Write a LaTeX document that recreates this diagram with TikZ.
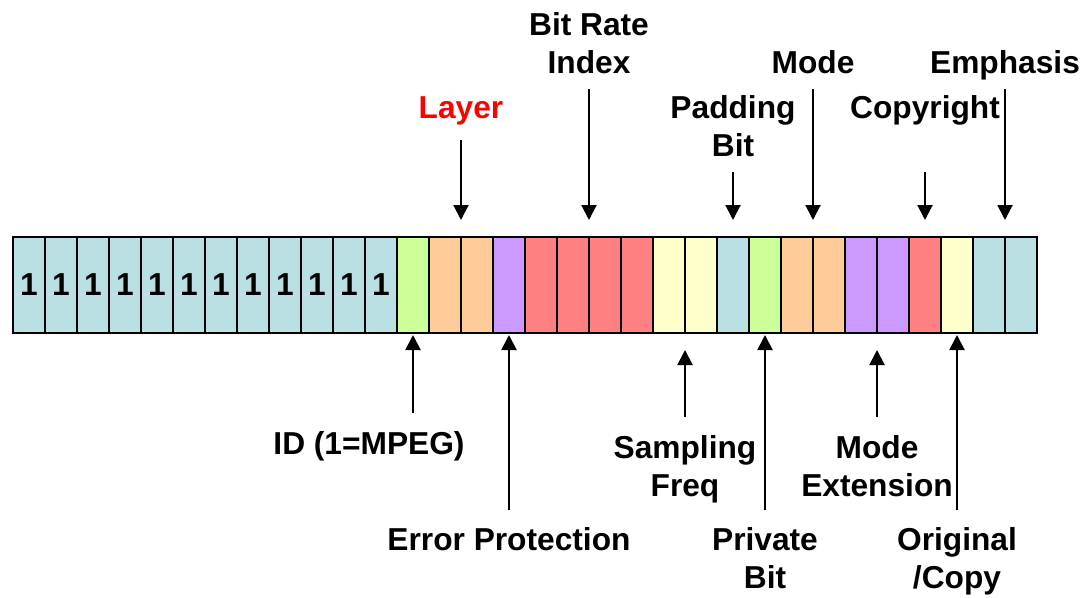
\documentclass[tikz,border=0pt]{standalone}
\usepackage{fontspec}
\setmainfont{Liberation Sans}
\usetikzlibrary{arrows.meta}
\definecolor{cblue}{RGB}{187,224,227}
\definecolor{cgreen}{RGB}{204,255,153}
\definecolor{corange}{RGB}{255,204,153}
\definecolor{cpurple}{RGB}{204,153,255}
\definecolor{cred}{RGB}{255,128,128}
\definecolor{cyellow}{RGB}{255,255,204}
\definecolor{lred}{RGB}{255,0,0}
\newcommand\lblfont{\bfseries\fontsize{31.7}{38}\selectfont}
\begin{document}
\begin{tikzpicture}[x=1pt,y=-1pt,
  cell/.style={draw, line width=1.6pt, minimum width=32pt, minimum height=96pt, inner sep=0pt, outer sep=0pt, font=\lblfont},
  lbl/.style={align=center, anchor=base, inner sep=0pt, font=\lblfont},
  arr/.style={line width=2pt, -{Triangle[width=15pt,length=15pt]}}]
\useasboundingbox (0,0) rectangle (1084,597);
% bit cells
\foreach \i/\c in {0/cblue,1/cblue,2/cblue,3/cblue,4/cblue,5/cblue,6/cblue,7/cblue,8/cblue,9/cblue,10/cblue,11/cblue,
  12/cgreen,13/corange,14/corange,15/cpurple,16/cred,17/cred,18/cred,19/cred,20/cyellow,21/cyellow,
  22/cblue,23/cgreen,24/corange,25/corange,26/cpurple,27/cpurple,28/cred,29/cyellow,30/cblue,31/cblue}
  {\node[cell, fill=\c] (c\i) at ({29+32*\i},285) {\ifnum\i<12 1\fi};}
% labels above (anchor = baseline of the last line)
\node[lbl] (lBitRate) at (589,73) {Bit Rate\\Index};
\node[lbl, text=lred] (lLayer) at (461,118) {Layer};
\node[lbl] (lPadding) at (733,156) {Padding\\Bit};
\node[lbl] (lMode) at (813,73) {Mode};
\node[lbl] (lCopyright) at (925,118) {Copyright};
\node[lbl] (lEmph) at (1005,73) {Emphasis};
% labels below
\node[lbl] (lID) at (369,454) {ID (1=MPEG)};
\node[lbl] (lErr) at (509,550) {Error Protection};
\node[lbl] (lSamp) at (685,496) {Sampling\\Freq};
\node[lbl] (lModeExt) at (877,496) {Mode\\Extension};
\node[lbl] (lPriv) at (765,588) {Private\\Bit};
\node[lbl] (lOrig) at (957,588) {Original\\/Copy};
% arrow tails
\coordinate (tLayer) at (461,140);
\coordinate (tBitRate) at (589,89);
\coordinate (tPadding) at (733,172);
\coordinate (tMode) at (813,89);
\coordinate (tCopyright) at (925,172);
\coordinate (tEmph) at (1005,89);
\coordinate (tID) at (413,413);
\coordinate (tErr) at (509,510);
\coordinate (tSamp) at (685,417);
\coordinate (tPriv) at (765,510);
\coordinate (tModeExt) at (877,417);
\coordinate (tOrig) at (957,510);
% arrows down
\draw[arr, shorten >=17pt] (tLayer) -- (c13.north east);
\draw[arr, shorten >=17pt] (tBitRate) -- (c17.north east);
\draw[arr, shorten >=17pt] (tPadding) -- (c22.north);
\draw[arr, shorten >=17pt] (tMode) -- (c24.north east);
\draw[arr, shorten >=17pt] (tCopyright) -- (c28.north);
\draw[arr, shorten >=17pt] (tEmph) -- (c30.north east);
% arrows up
\draw[arr, shorten >=2pt] (tID) -- (c12.south);
\draw[arr, shorten >=2pt] (tErr) -- (c15.south);
\draw[arr, shorten >=17pt] (tSamp) -- (c20.south east);
\draw[arr, shorten >=2pt] (tPriv) -- (c23.south);
\draw[arr, shorten >=17pt] (tModeExt) -- (c26.south east);
\draw[arr, shorten >=2pt] (tOrig) -- (c29.south);
\end{tikzpicture}
\end{document}
